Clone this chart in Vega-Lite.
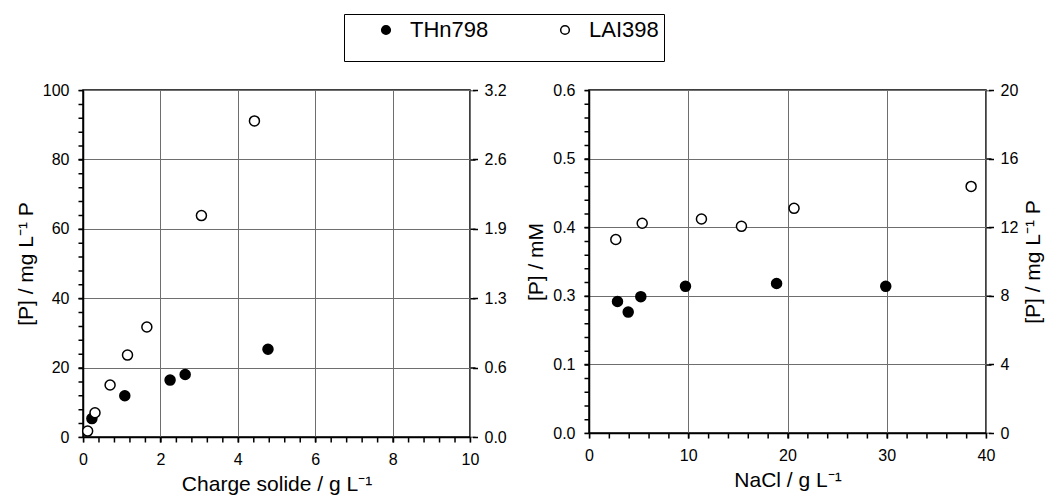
{
  "$schema": "https://vega.github.io/schema/vega-lite/v6.json",
  "autosize": {"type": "pad"},
  "padding": {"left": 14, "top": 13, "right": 5, "bottom": 5},
  "background": "white",
  "bounds": "flush",
  "spacing": 119,
  "datasets": {
    "charge": [
      {"serie": "THn798", "x": 0.23, "p": 5.3},
      {"serie": "THn798", "x": 1.08, "p": 11.9},
      {"serie": "THn798", "x": 2.25, "p": 16.4},
      {"serie": "THn798", "x": 2.64, "p": 18.0},
      {"serie": "THn798", "x": 4.78, "p": 25.3},
      {"serie": "LAI398", "x": 0.12, "p": 1.7},
      {"serie": "LAI398", "x": 0.31, "p": 7.0},
      {"serie": "LAI398", "x": 0.70, "p": 15.0},
      {"serie": "LAI398", "x": 1.15, "p": 23.6},
      {"serie": "LAI398", "x": 1.65, "p": 31.7},
      {"serie": "LAI398", "x": 3.06, "p": 63.8},
      {"serie": "LAI398", "x": 4.43, "p": 91.1}
    ],
    "nacl": [
      {"serie": "THn798", "x": 2.87, "p": 7.67},
      {"serie": "THn798", "x": 3.95, "p": 7.05},
      {"serie": "THn798", "x": 5.22, "p": 7.95},
      {"serie": "THn798", "x": 9.72, "p": 8.55},
      {"serie": "THn798", "x": 18.9, "p": 8.72},
      {"serie": "THn798", "x": 29.9, "p": 8.55},
      {"serie": "LAI398", "x": 2.70, "p": 11.28},
      {"serie": "LAI398", "x": 5.36, "p": 12.23},
      {"serie": "LAI398", "x": 11.33, "p": 12.48},
      {"serie": "LAI398", "x": 15.36, "p": 12.05},
      {"serie": "LAI398", "x": 20.66, "p": 13.1},
      {"serie": "LAI398", "x": 38.5, "p": 14.38}
    ]
  },
  "hconcat": [
    {
      "width": 387,
      "height": 347,
      "data": {"name": "charge"},
      "resolve": {"axis": {"x": "independent", "y": "independent"}},
      "layer": [
        {
          "mark": {"type": "point", "shape": "circle", "filled": true, "opacity": 1, "size": 100, "stroke": "black", "strokeWidth": 1.5},
          "encoding": {
            "x": {
              "field": "x", "type": "quantitative",
              "scale": {"domain": [0, 10], "nice": false, "zero": true},
              "axis": {
                "orient": "bottom",
                "title": "Charge solide / g L⁻¹",
                "values": [0, 2, 4, 6, 8, 10],
                "labelExpr": "format(datum.value, 'd')",
                "grid": true
              }
            },
            "y": {
              "field": "p", "type": "quantitative",
              "scale": {"domain": [0, 100], "nice": false, "zero": true},
              "axis": {
                "orient": "left",
                "title": "[P] / mg L⁻¹ P",
                "values": [0, 20, 40, 60, 80, 100],
                "labelExpr": "format(datum.value, 'd')",
                "grid": true
              }
            },
            "fill": {
              "field": "serie", "type": "nominal",
              "scale": {"domain": ["THn798", "LAI398"], "range": ["black", "white"]},
              "legend": {
                "orient": "none",
                "legendX": 261,
                "legendY": -76,
                "direction": "horizontal",
                "title": "\u00a0\u00a0\u00a0",
                "titleOrient": "left",
                "titleFontSize": 52,
                "titlePadding": 5,
                "padding": 5,
                "strokeColor": "black",
                "labelFont": "Liberation Sans",
                "labelFontSize": 22,
                "labelColor": "black",
                "labelOffset": 13,
                "symbolOffset": 21,
                "columnPadding": 44,
                "symbolType": "circle",
                "symbolSize": 75,
                "symbolStrokeColor": "black",
                "symbolStrokeWidth": 1.5
              }
            }
          }
        },
        {
          "mark": {"type": "point", "opacity": 0},
          "encoding": {
            "y": {
              "field": "p", "type": "quantitative",
              "scale": {"domain": [0, 100], "nice": false, "zero": true},
              "axis": {
                "orient": "right",
                "title": null,
                "grid": false,
                "offset": 2.5,
                "labelPadding": 6.5,
                "domainWidth": 5,
                "domainDash": [1.5, 67.9],
                "domainDashOffset": 0.75,
                "values": [0, 20, 40, 60, 80, 100],
                "labelExpr": "format(datum.value/31, '.1f')"
              }
            }
          }
        },
        {
          "mark": {"type": "point", "opacity": 0},
          "encoding": {
            "x": {
              "field": "x", "type": "quantitative",
              "scale": {"domain": [0, 10], "nice": false, "zero": true},
              "axis": {
                "orient": "bottom",
                "title": null,
                "labels": false,
                "grid": false,
                "ticks": false,
                "offset": 2.5,
                "domain": true,
                "domainColor": "black",
                "domainWidth": 5,
                "domainDash": [1.5, 13.98],
                "domainDashOffset": 0.75,
                "values": [0, 2, 4, 6, 8, 10]
              }
            },
            "y": {
              "field": "p", "type": "quantitative",
              "scale": {"domain": [0, 100], "nice": false, "zero": true},
              "axis": {
                "orient": "left",
                "title": null,
                "labels": false,
                "grid": false,
                "ticks": false,
                "offset": 2.5,
                "domain": true,
                "domainColor": "black",
                "domainWidth": 5,
                "domainDash": [1.5, 12.38],
                "domainDashOffset": 0.75,
                "values": [0, 20, 40, 60, 80, 100]
              }
            }
          }
        }
      ]
    },
    {
      "width": 397,
      "height": 343,
      "data": {"name": "nacl"},
      "resolve": {"axis": {"x": "independent", "y": "independent"}},
      "layer": [
        {
          "mark": {"type": "point", "shape": "circle", "filled": true, "opacity": 1, "size": 100, "stroke": "black", "strokeWidth": 1.5},
          "encoding": {
            "x": {
              "field": "x", "type": "quantitative",
              "scale": {"domain": [0, 40], "nice": false, "zero": true},
              "axis": {
                "orient": "bottom",
                "title": "NaCl / g L⁻¹",
                "values": [0, 10, 20, 30, 40],
                "labelExpr": "format(datum.value, 'd')",
                "grid": true
              }
            },
            "y": {
              "field": "p", "type": "quantitative",
              "scale": {"domain": [0, 20], "nice": false, "zero": true},
              "axis": {
                "orient": "left",
                "title": "[P] / mM",
                "values": [0, 4, 8, 12, 16, 20],
                "labelExpr": "format(datum.value/31, '.1f')",
                "grid": true
              }
            },
            "fill": {
              "field": "serie", "type": "nominal",
              "scale": {"domain": ["THn798", "LAI398"], "range": ["black", "white"]}
            }
          }
        },
        {
          "mark": {"type": "point", "opacity": 0},
          "encoding": {
            "y": {
              "field": "p", "type": "quantitative",
              "scale": {"domain": [0, 20], "nice": false, "zero": true},
              "axis": {
                "orient": "right",
                "title": "[P] / mg L⁻¹ P",
                "titleAngle": 270,
                "titleBaseline": "top",
                "titlePadding": 5,
                "grid": false,
                "offset": 2.5,
                "labelPadding": 6.5,
                "domainWidth": 5,
                "domainDash": [1.5, 67.1],
                "domainDashOffset": 0.75,
                "values": [0, 4, 8, 12, 16, 20],
                "labelExpr": "format(datum.value, 'd')"
              }
            }
          }
        },
        {
          "mark": {"type": "point", "opacity": 0},
          "encoding": {
            "x": {
              "field": "x", "type": "quantitative",
              "scale": {"domain": [0, 40], "nice": false, "zero": true},
              "axis": {
                "orient": "bottom",
                "title": null,
                "labels": false,
                "grid": false,
                "ticks": false,
                "offset": 2.5,
                "domain": true,
                "domainColor": "black",
                "domainWidth": 5,
                "domainDash": [1.5, 18.35],
                "domainDashOffset": 0.75,
                "values": [0, 10, 20, 30, 40]
              }
            },
            "y": {
              "field": "p", "type": "quantitative",
              "scale": {"domain": [0, 20], "nice": false, "zero": true},
              "axis": {
                "orient": "left",
                "title": null,
                "labels": false,
                "grid": false,
                "ticks": false,
                "offset": 2.5,
                "domain": true,
                "domainColor": "black",
                "domainWidth": 5,
                "domainDash": [1.5, 12.22],
                "domainDashOffset": 0.75,
                "values": [0, 4, 8, 12, 16, 20]
              }
            }
          }
        }
      ]
    }
  ],
  "resolve": {
    "scale": {"x": "independent", "y": "independent", "fill": "shared"},
    "legend": {"fill": "shared"}
  },
  "config": {
    "font": "Liberation Sans",
    "view": {"stroke": "black", "strokeWidth": 1.5},
    "axis": {
      "labelFont": "Liberation Sans",
      "labelFontSize": 16,
      "labelColor": "black",
      "labelOverlap": false,
      "labelFlush": false,
      "labelPadding": 9,
      "titleFont": "Liberation Sans",
      "titleFontSize": 21,
      "titleFontWeight": "normal",
      "titleColor": "black",
      "titlePadding": 6,
      "domainColor": "black",
      "domainWidth": 1.5,
      "ticks": true,
      "tickColor": "black",
      "tickWidth": 1.5,
      "tickSize": 5,
      "gridColor": "#6e6e6e",
      "gridWidth": 1
    }
  }
}
